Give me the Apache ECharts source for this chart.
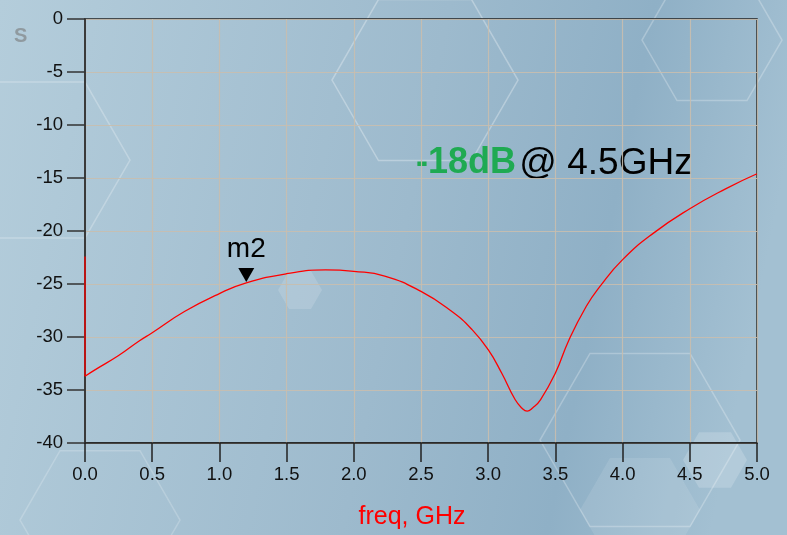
<!DOCTYPE html>
<html>
<head>
<meta charset="utf-8">
<script src="https://cdn.jsdelivr.net/npm/echarts@6/dist/echarts.min.js"></script>
<style>
  html, body { margin: 0; padding: 0; }
  #chart { width: 787px; height: 535px; }
</style>
</head>
<body>
<div id="chart"></div>
<script>
// frecuencia (GHz) y S11 (dB)
const freq = [0, 0.074, 0.25, 0.4, 0.5, 0.74, 1.0, 1.2, 1.5, 1.79, 2.0, 2.23, 2.5, 2.73, 2.88, 3.0, 3.1, 3.2, 3.25, 3.29, 3.33, 3.39, 3.5, 3.6, 3.73, 3.83, 4.0, 4.23, 4.5, 4.77, 5.0];
const s11 = [-33.7, -33.1, -31.75, -30.4, -29.6, -27.6, -25.9, -24.9, -24.03, -23.66, -23.8, -24.25, -25.7, -27.6, -29.3, -31.2, -33.4, -35.9, -36.7, -37.0, -36.7, -35.9, -33.4, -30.3, -27.1, -25.25, -22.7, -20.2, -17.9, -16.0, -14.6];
// salto vertical en f = 0
const dcFreq = [0, 0];
const dcS11 = [-22.4, -33.7];
const xTicks = [0, 0.5, 1, 1.5, 2, 2.5, 3, 3.5, 4, 4.5, 5];
const yTicks = [0, -5, -10, -15, -20, -25, -30, -35, -40];
const marker = { name: 'm2', f: 1.2, v: -24.9 };

const chart = echarts.init(document.getElementById('chart'));

// hexagonos decorativos del fondo
const hex = (cx, cy, r) => {
  const pts = [];
  for (let i = 0; i < 6; i++) {
    const a = Math.PI / 3 * i;
    pts.push([cx + r * Math.cos(a), cy + r * Math.sin(a)]);
  }
  return pts;
};
const hexLine = (cx, cy, r, op) => ({
  type: 'polygon', silent: true, z: -1,
  shape: { points: hex(cx, cy, r) },
  style: { fill: 'none', stroke: 'rgba(255,255,255,' + op + ')', lineWidth: 1.5 }
});
const hexFill = (cx, cy, r, op) => ({
  type: 'polygon', silent: true, z: -1,
  shape: { points: hex(cx, cy, r) },
  style: { fill: 'rgba(255,255,255,' + op + ')' }
});

const font = 'Liberation Sans';

chart.setOption({
  animation: false,
  backgroundColor: {
    type: 'linear', x: 0, y: 0, x2: 1, y2: 0.3,
    colorStops: [
      { offset: 0, color: '#b4cddb' },
      { offset: 0.55, color: '#9dbacd' },
      { offset: 0.8, color: '#8fb0c6' },
      { offset: 1, color: '#a3c0d2' }
    ]
  },
  graphic: [
    hexLine(425, 80, 93, 0.3),
    hexLine(712, 40, 70, 0.25),
    hexLine(40, 160, 90, 0.25),
    hexLine(640, 440, 100, 0.25),
    hexLine(100, 520, 80, 0.2),
    hexFill(300, 290, 22, 0.15),
    hexFill(715, 460, 32, 0.18),
    hexFill(640, 510, 60, 0.1),
    {
      type: 'text', left: 14, top: 26, silent: true,
      style: { text: 'S', fontSize: 20, fontWeight: 'bold', fontFamily: font, fill: 'rgba(120,120,120,0.6)' }
    },
    {
      type: 'text', left: 416, top: 145,
      style: {
        text: '{g|-18dB} {b|@ 4.5GHz}',
        rich: {
          g: { fontSize: 36, fontWeight: 'bold', fontFamily: font, fill: '#1faa52' },
          b: { fontSize: 37, fontFamily: font, fill: '#000' }
        }
      }
    }
  ],
  grid: {
    left: 85, right: 30, top: 19, bottom: 92,
    outerBoundsMode: 'none',
    show: true, borderColor: '#222', borderWidth: 1.5,
    backgroundColor: 'transparent'
  },
  xAxis: {
    type: 'value', min: 0, max: 5, interval: 0.5,
    name: 'freq, GHz', nameLocation: 'middle', nameGap: 62,
    nameTextStyle: { color: '#ff0000', fontSize: 25, fontFamily: font, padding: [0, 18, 0, 0] },
    axisLine: { show: true, onZero: false, lineStyle: { color: '#222', width: 1.5 } },
    axisTick: { show: true, inside: false, length: 19, lineStyle: { color: '#222', width: 1.5 } },
    axisLabel: {
      margin: 22, color: '#111', fontSize: 18.5, fontFamily: font,
      formatter: v => v.toFixed(1), customValues: xTicks
    },
    splitLine: { show: true, lineStyle: { color: 'rgba(200,190,175,0.9)', width: 1.2 } }
  },
  yAxis: {
    type: 'value', min: -40, max: 0, interval: 5,
    axisLine: { show: true, onZero: false, lineStyle: { color: '#3a3a3a', width: 2 } },
    axisTick: { show: true, length: 18, lineStyle: { color: '#333', width: 1.5 } },
    axisLabel: {
      margin: 22, color: '#111', fontSize: 18.5, fontFamily: font,
      customValues: yTicks
    },
    splitLine: { show: true, lineStyle: { color: 'rgba(200,190,175,0.9)', width: 1.2 } }
  },
  series: [
    {
      type: 'line',
      data: dcFreq.map((f, i) => [f, dcS11[i]]),
      showSymbol: false,
      lineStyle: { color: '#ff0000', width: 1.3 }
    },
    {
      type: 'line',
      data: freq.map((f, i) => [f, s11[i]]),
      smooth: 0.5,
      showSymbol: false,
      lineStyle: { color: '#ff0000', width: 1.3 },
      markPoint: {
        symbol: 'triangle', symbolRotate: 180, symbolSize: [16, 14], symbolOffset: [0, -8],
        itemStyle: { color: '#000' },
        label: {
          show: true, position: 'top', distance: 5, formatter: '{b}',
          color: '#000', fontSize: 28, fontFamily: font
        },
        data: [{ name: marker.name, coord: [marker.f, marker.v] }]
      }
    }
  ]
});
</script>
</body>
</html>
